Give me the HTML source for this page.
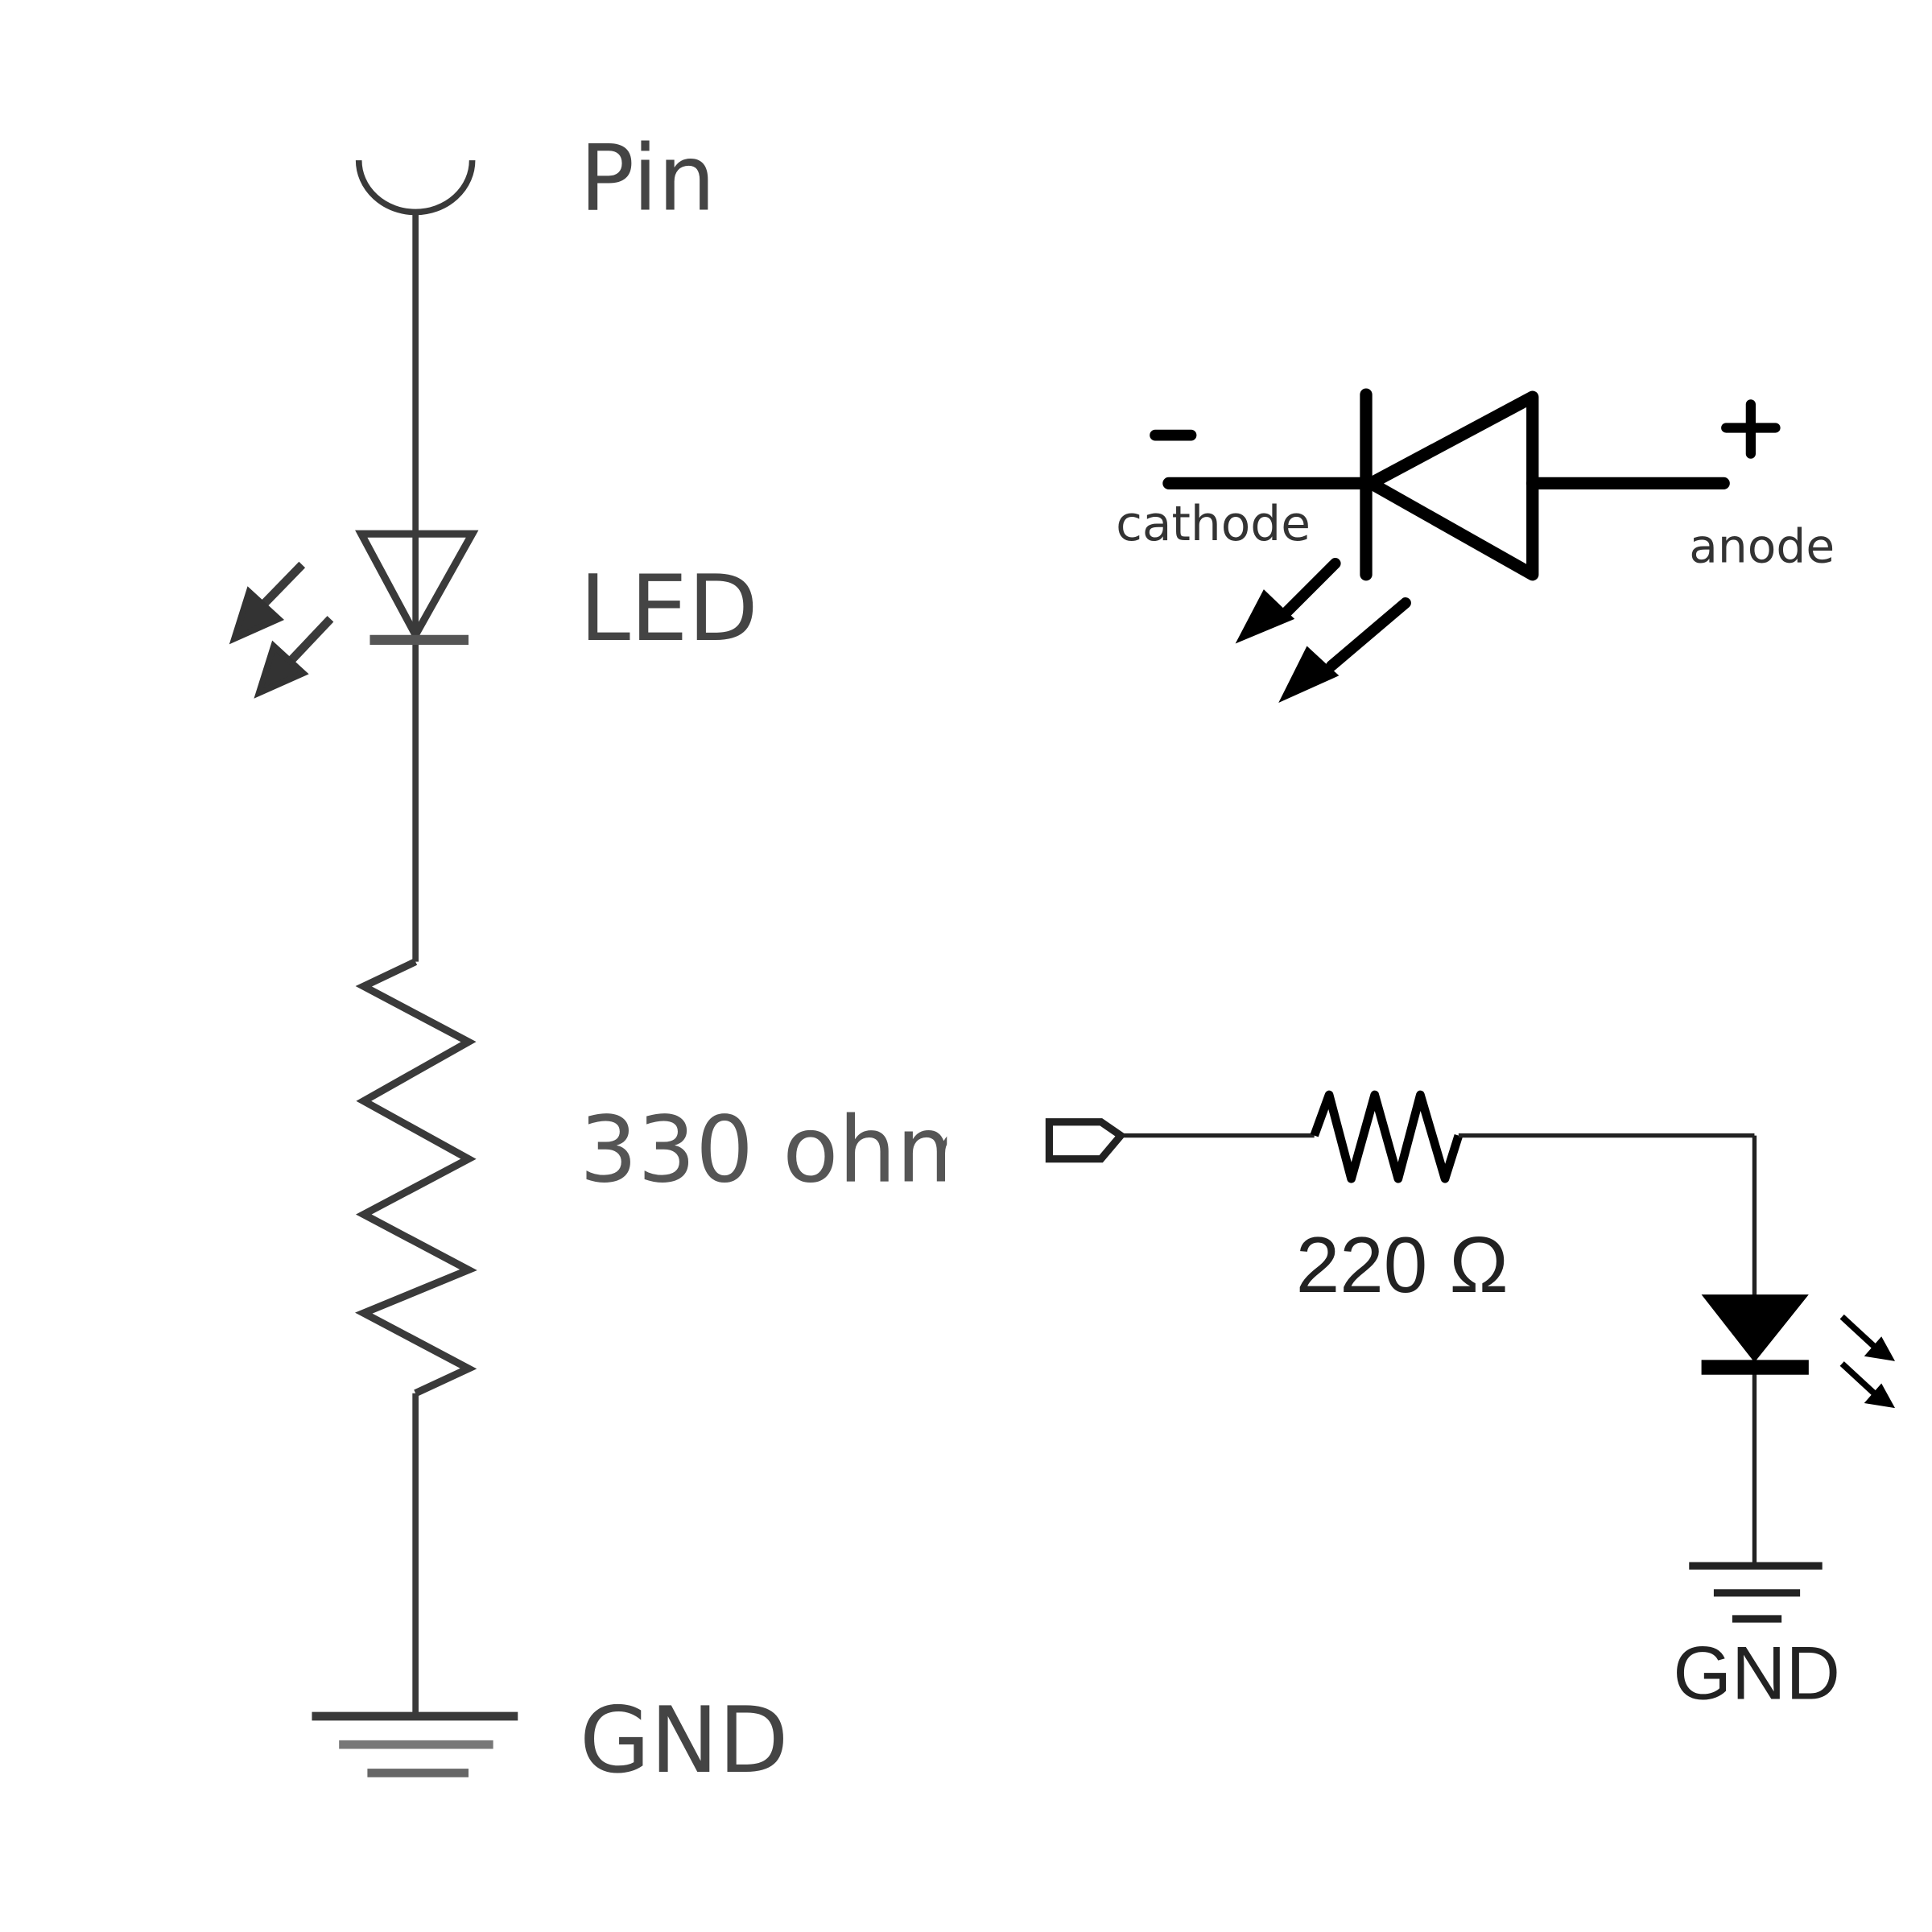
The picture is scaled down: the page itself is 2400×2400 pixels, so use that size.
<!DOCTYPE html>
<html><head><meta charset="utf-8"><style>html,body{margin:0;padding:0;background:#fff}svg{display:block}</style></head>
<body>
<svg width="2400" height="2400" viewBox="0 0 1567 1567" xmlns="http://www.w3.org/2000/svg">
<rect width="1567" height="1567" fill="#fff"/>
<g stroke="#3a3a3a" fill="none" stroke-width="5">
<path d="M291,130 A46,42 0 0 0 383,130"/>
<line x1="337" y1="170" x2="337" y2="432"/>
<path d="M293,433 L383,433 L337,515 Z" stroke-width="6"/>
<line x1="337" y1="432" x2="337" y2="780"/>
<line x1="300" y1="519" x2="380" y2="519" stroke-width="8" stroke="#555"/>
<polyline points="337,780 295,800 380,845 295,893 380,940 295,985 380,1030 295,1065 380,1110 337,1130" stroke-width="6"/>
<line x1="337" y1="1130" x2="337" y2="1392"/>
<line x1="253" y1="1392" x2="420" y2="1392" stroke-width="7"/>
<line x1="275" y1="1415" x2="400" y2="1415" stroke-width="7" stroke="#777"/>
<line x1="298" y1="1438" x2="380" y2="1438" stroke-width="7" stroke="#666"/>
<line x1="245" y1="458" x2="210" y2="494" stroke-width="7"/>
<polygon points="190,518 202,480 226,502" fill="#333" stroke="#333" stroke-width="5"/>
<line x1="268" y1="502" x2="232" y2="540" stroke-width="7"/>
<polygon points="210,562 222,524 246,546" fill="#333" stroke="#333" stroke-width="5"/>
</g>
<g font-family="'DejaVu Sans','Liberation Sans',sans-serif" fill="#444" font-size="74">
<text x="470" y="170">Pin</text>
<text x="470" y="519">LED</text>
<text x="1357" y="1378" font-family="'Liberation Sans',sans-serif" font-size="61" fill="#222">GND</text>
<text x="470" y="1437">GND</text>
</g>
<svg x="0" y="880" width="768" height="100" overflow="hidden">
<text x="470" y="78" font-family="'DejaVu Sans','Liberation Sans',sans-serif" font-size="74" fill="#555">330 ohm</text>
</svg>
<!-- top diode -->
<g stroke="#000" fill="none" stroke-width="10" stroke-linecap="round">
<line x1="948" y1="392" x2="1108" y2="392"/>
<line x1="1108" y1="320" x2="1108" y2="466"/>
<path d="M1112,392 L1243,322 L1243,466 Z" stroke-linejoin="round"/>
<line x1="1243" y1="392" x2="1398" y2="392"/>
<line x1="937" y1="353" x2="966" y2="353" stroke-width="9"/>
<line x1="1400" y1="347" x2="1440" y2="347" stroke-width="8"/>
<line x1="1420" y1="328" x2="1420" y2="368" stroke-width="8"/>
<line x1="1083" y1="457" x2="1040" y2="500" stroke-width="9"/>
<line x1="1140" y1="489" x2="1080" y2="540" stroke-width="9"/>
</g>
<polygon points="1002,522 1025,478 1050,502" fill="#000"/>
<polygon points="1037,570 1060,524 1086,548" fill="#000"/>
<g font-family="'DejaVu Sans','Liberation Sans',sans-serif" fill="#333" font-size="39">
<text x="905" y="438">cathode</text>
<text x="1370" y="456" font-size="38">anode</text>
</g>
<!-- right circuit -->
<g stroke="#222" fill="none" stroke-width="3.5">
<path d="M851,910 L893,910 L909,921 L893,940 L851,940 Z" stroke-width="6"/>
<line x1="909" y1="921" x2="1066" y2="921"/>
<polyline points="1066,921 1078,888 1096,956 1115,888 1134,956 1152,888 1172,956 1183,921" stroke-width="7" stroke="#000" stroke-linejoin="round"/>
<line x1="1183" y1="921" x2="1423" y2="921"/>
<line x1="1423" y1="921" x2="1423" y2="1268"/>
<line x1="1370" y1="1270" x2="1478" y2="1270" stroke-width="6"/>
<line x1="1390" y1="1292" x2="1460" y2="1292" stroke-width="6"/>
<line x1="1405" y1="1313" x2="1445" y2="1313" stroke-width="6"/>
</g>
<polygon points="1380,1050 1467,1050 1423,1105" fill="#000"/>
<rect x="1380" y="1103" width="87" height="12" fill="#000"/>
<g stroke="#000" stroke-width="5">
<line x1="1494" y1="1068" x2="1520" y2="1092"/>
<line x1="1494" y1="1106" x2="1520" y2="1130"/>
</g>
<polygon points="1537,1104 1512,1100 1526,1084" fill="#000"/>
<polygon points="1537,1142 1512,1138 1526,1122" fill="#000"/>
<text x="1051" y="1048" font-family="'Liberation Sans',sans-serif" font-size="64" fill="#222">220 Ω</text>
</svg>
</body></html>
